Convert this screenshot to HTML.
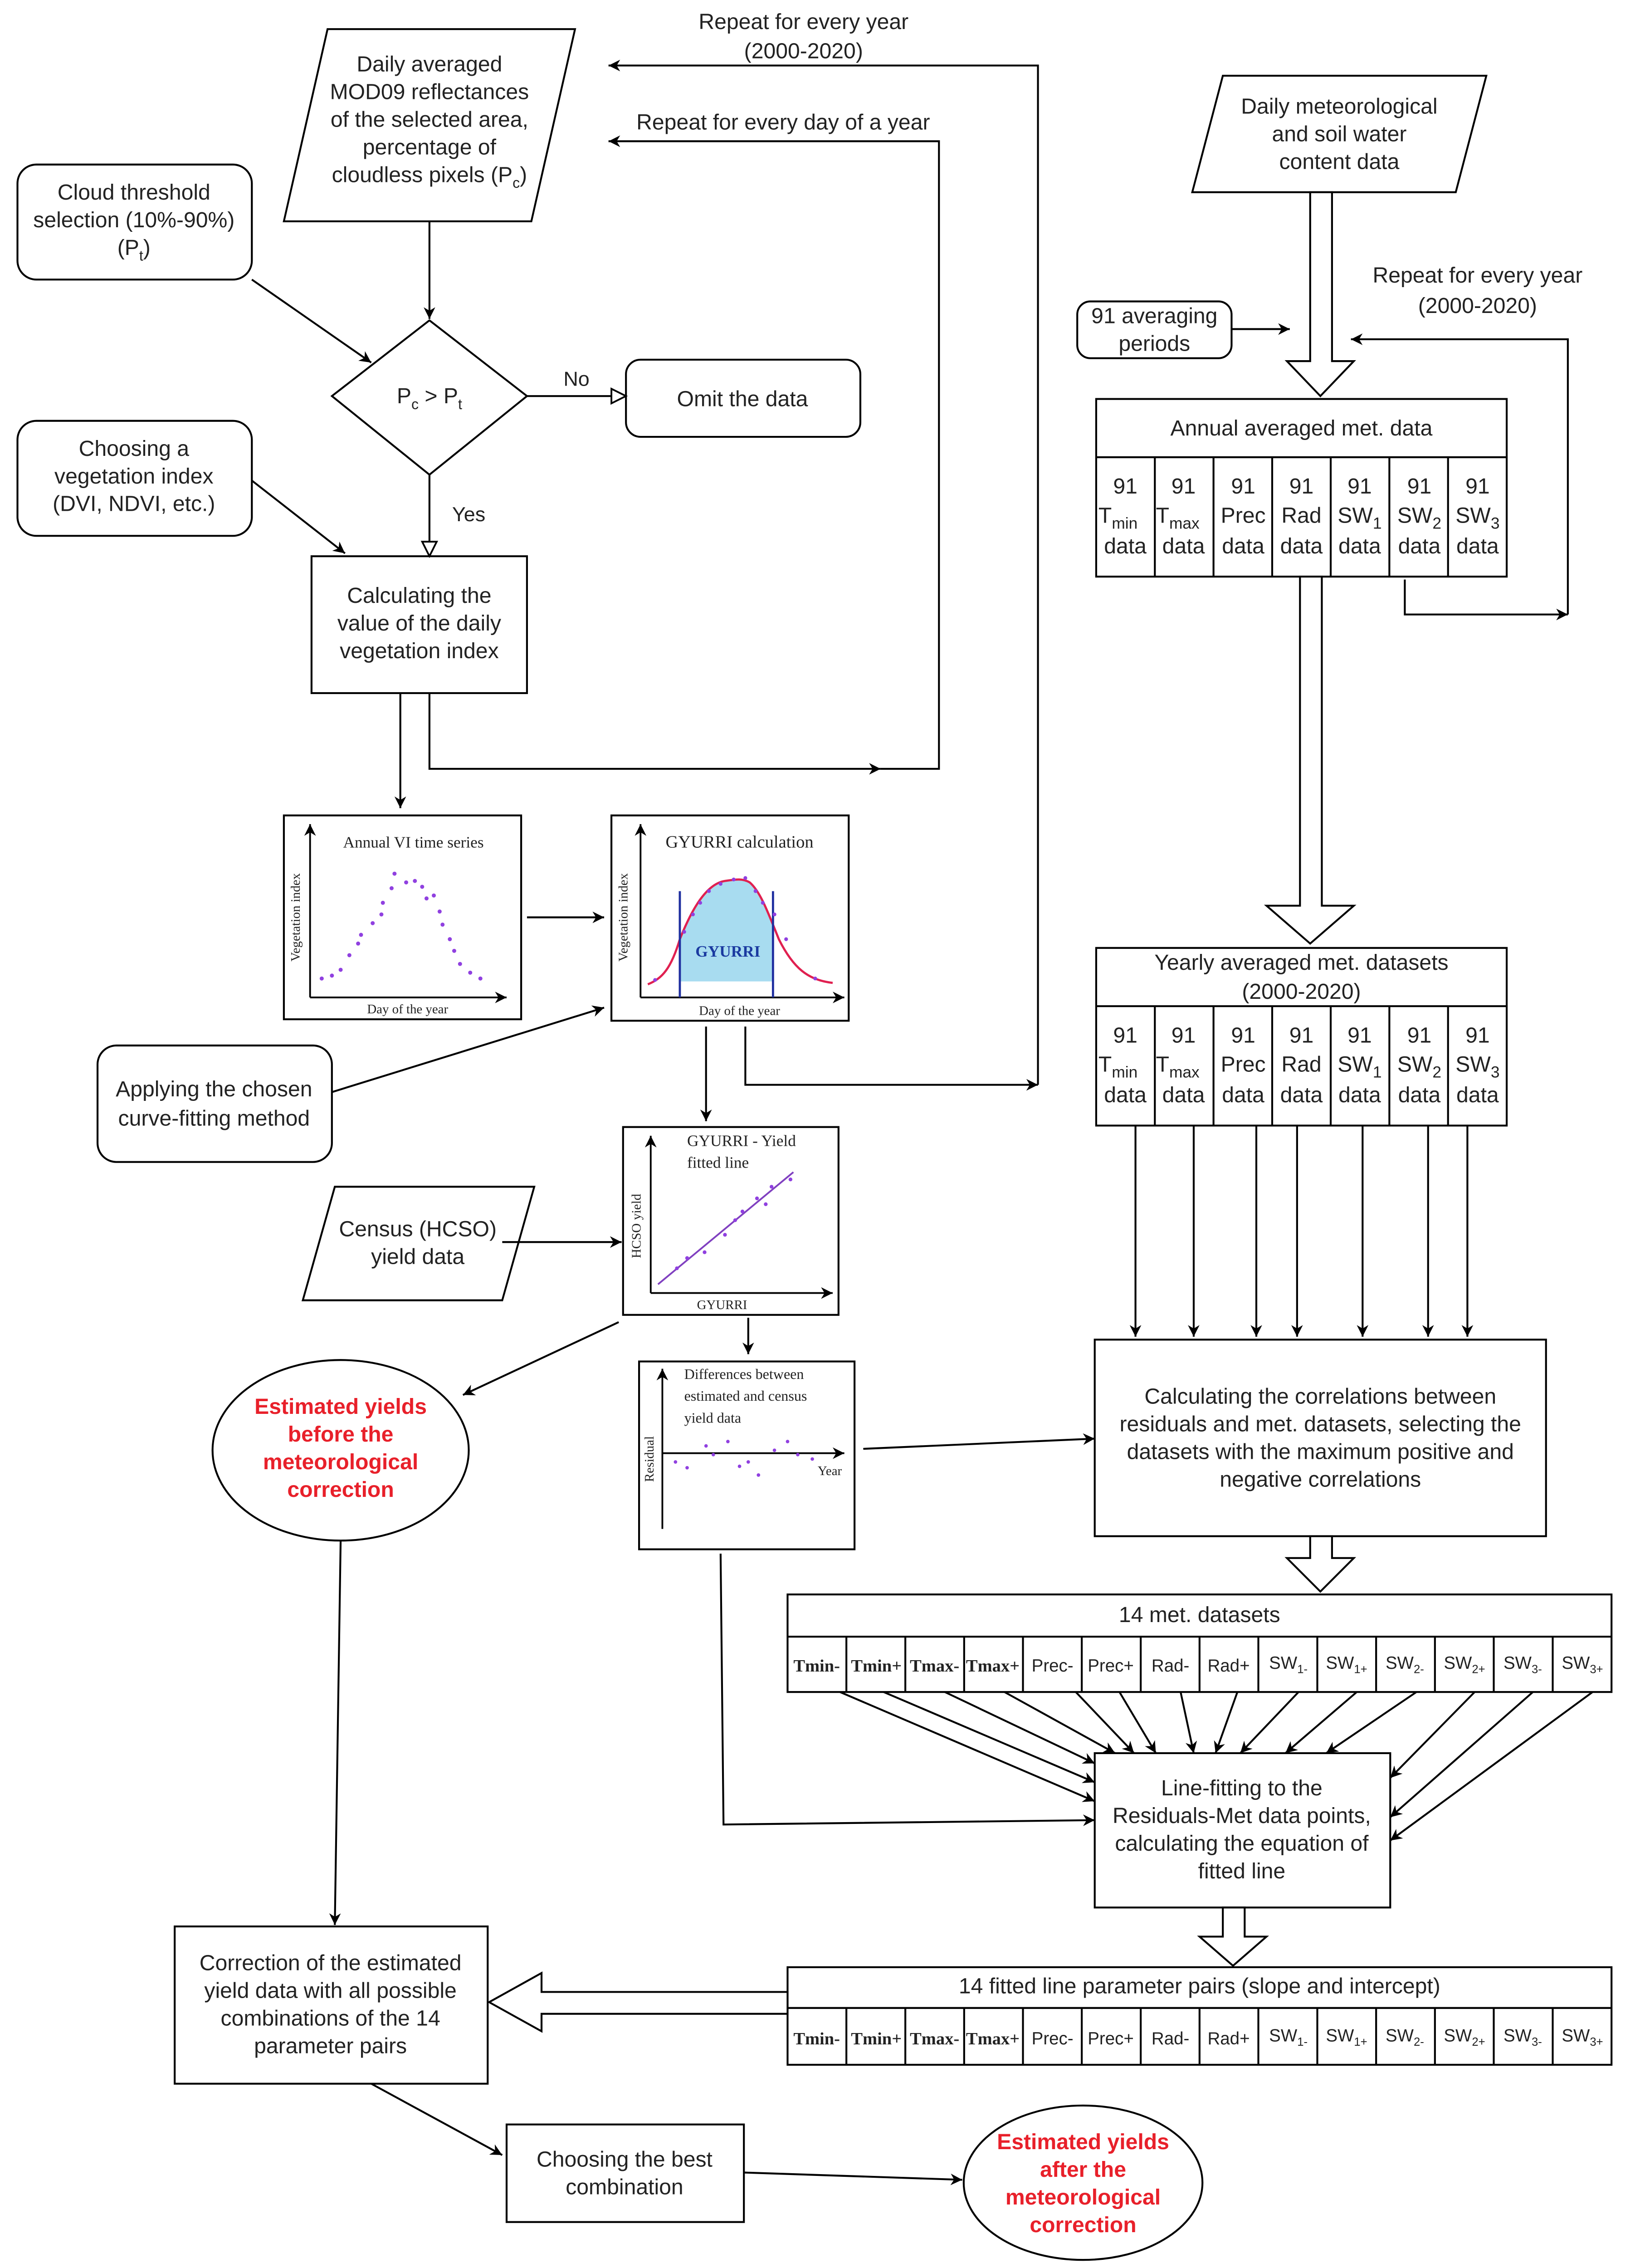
<!DOCTYPE html>
<html><head><meta charset="utf-8"><style>
html,body{margin:0;padding:0;background:#fff;width:3627px;height:5072px;overflow:hidden;}
svg{display:block;}
text{font-family:"Liberation Sans",sans-serif;fill:#222;}
.s{font-family:"Liberation Serif",serif;}
</style></head><body>
<svg width="3627" height="5072" viewBox="0 0 1130 1580" preserveAspectRatio="none" xmlns="http://www.w3.org/2000/svg">
<defs>
<marker id="a" viewBox="0 0 10 10" refX="10" refY="5" markerWidth="8" markerHeight="8" orient="auto" markerUnits="userSpaceOnUse"><path d="M0,0 L10,5 L0,10 L3,5 z" fill="#000"/></marker>
<marker id="o" viewBox="0 0 12 12" refX="11" refY="6" markerWidth="12" markerHeight="12" orient="auto" markerUnits="userSpaceOnUse"><path d="M1,1 L11,6 L1,11 z" fill="#fff" stroke="#000" stroke-width="1.2"/></marker>
</defs>
<g fill="none" stroke="#000" stroke-width="1.3">
<polygon points="225,20 395,20 365,152 195,152" fill="#fff"/>
<rect x="12" y="113" width="161" height="79" rx="13" fill="#fff"/>
<polygon points="295,220 362,272 295,326 228,272" fill="#fff"/>
<rect x="430" y="247" width="161" height="53" rx="10" fill="#fff"/>
<rect x="12" y="289" width="161" height="79" rx="13" fill="#fff"/>
<rect x="214" y="382" width="148" height="94" fill="#fff"/>
<line x1="295" y1="152" x2="295" y2="219" marker-end="url(#a)"/>
<line x1="173" y1="192" x2="255" y2="249" marker-end="url(#a)"/>
<line x1="362" y1="272" x2="430" y2="272" marker-end="url(#o)"/>
<line x1="295" y1="326" x2="295" y2="382" marker-end="url(#o)"/>
<line x1="173" y1="330" x2="237" y2="380" marker-end="url(#a)"/>
<polyline points="295,476 295,528 605,528" marker-end="url(#a)"/>
<polyline points="605,528 645,528 645,97 418,97" marker-end="url(#a)"/>
<polyline points="512,705 512,745 713,745" marker-end="url(#a)"/>
<polyline points="713,745 713,45 418,45" marker-end="url(#a)"/>
<line x1="275" y1="476" x2="275" y2="555" marker-end="url(#a)"/>
<rect x="195" y="560" width="163" height="140" fill="#fff"/>
<rect x="420" y="560" width="163" height="141" fill="#fff"/>
<line x1="362" y1="630" x2="415" y2="630" marker-end="url(#a)"/>
<rect x="67" y="718" width="161" height="80" rx="13" fill="#fff"/>
<line x1="228" y1="750" x2="415" y2="692" marker-end="url(#a)"/>
<line x1="485" y1="705" x2="485" y2="770" marker-end="url(#a)"/>
<rect x="428" y="774" width="148" height="129" fill="#fff"/>
<polygon points="230,815 367,815 345,893 208,893" fill="#fff"/>
<line x1="345" y1="853" x2="427" y2="853" marker-end="url(#a)"/>
<line x1="425" y1="908" x2="318" y2="958" marker-end="url(#a)"/>
<ellipse cx="234" cy="996" rx="88" ry="62" fill="#fff"/>
<line x1="514" y1="905" x2="514" y2="930" marker-end="url(#a)"/>
<rect x="439" y="935" width="148" height="129" fill="#fff"/>
<line x1="593" y1="995" x2="752" y2="988" marker-end="url(#a)"/>
<polyline points="495,1067 497,1253 752,1250" marker-end="url(#a)"/>
<line x1="234" y1="1058" x2="230" y2="1322" marker-end="url(#a)"/>
<polygon points="840,52 1021,52 1000,132 819,132" fill="#fff"/>
<polygon points="900,132 915,132 915,248 930,248 907,272 884,248 900,248" fill="#fff"/>
<rect x="740" y="207" width="106" height="39" rx="9" fill="#fff"/>
<line x1="846" y1="226" x2="886" y2="226" marker-end="url(#a)"/>
<polyline points="965,398 965,422 1077,422" marker-end="url(#a)"/>
<polyline points="1077,422 1077,233 928,233" marker-end="url(#a)"/>
<rect x="753" y="274" width="282" height="122" fill="#fff"/>
<line x1="753" y1="314" x2="1035" y2="314"/>
<line x1="793.3" y1="314" x2="793.3" y2="396"/><line x1="833.6" y1="314" x2="833.6" y2="396"/><line x1="873.9" y1="314" x2="873.9" y2="396"/><line x1="914.1" y1="314" x2="914.1" y2="396"/><line x1="954.4" y1="314" x2="954.4" y2="396"/><line x1="994.7" y1="314" x2="994.7" y2="396"/>
<polygon points="893,396 908,396 908,622 930,622 900,648 870,622 893,622" fill="#fff"/>
<rect x="753" y="651" width="282" height="122" fill="#fff"/>
<line x1="753" y1="691" x2="1035" y2="691"/>
<line x1="793.3" y1="691" x2="793.3" y2="773"/><line x1="833.6" y1="691" x2="833.6" y2="773"/><line x1="873.9" y1="691" x2="873.9" y2="773"/><line x1="914.1" y1="691" x2="914.1" y2="773"/><line x1="954.4" y1="691" x2="954.4" y2="773"/><line x1="994.7" y1="691" x2="994.7" y2="773"/>
<line x1="780" y1="773" x2="780" y2="918" marker-end="url(#a)"/>
<line x1="820" y1="773" x2="820" y2="918" marker-end="url(#a)"/>
<line x1="863" y1="773" x2="863" y2="918" marker-end="url(#a)"/>
<line x1="891" y1="773" x2="891" y2="918" marker-end="url(#a)"/>
<line x1="936" y1="773" x2="936" y2="918" marker-end="url(#a)"/>
<line x1="981" y1="773" x2="981" y2="918" marker-end="url(#a)"/>
<line x1="1008" y1="773" x2="1008" y2="918" marker-end="url(#a)"/>
<rect x="752" y="920" width="310" height="135" fill="#fff"/>
<polygon points="900,1055 915,1055 915,1070 930,1070 907,1093 884,1070 900,1070" fill="#fff"/>
<rect x="541" y="1095" width="566" height="67" fill="#fff"/>
<line x1="541" y1="1124" x2="1107" y2="1124"/>
<g>
<line x1="581.4" y1="1124" x2="581.4" y2="1162"/><line x1="621.9" y1="1124" x2="621.9" y2="1162"/><line x1="662.3" y1="1124" x2="662.3" y2="1162"/><line x1="702.7" y1="1124" x2="702.7" y2="1162"/><line x1="743.1" y1="1124" x2="743.1" y2="1162"/><line x1="783.6" y1="1124" x2="783.6" y2="1162"/><line x1="824" y1="1124" x2="824" y2="1162"/><line x1="864.4" y1="1124" x2="864.4" y2="1162"/><line x1="904.9" y1="1124" x2="904.9" y2="1162"/><line x1="945.3" y1="1124" x2="945.3" y2="1162"/><line x1="985.7" y1="1124" x2="985.7" y2="1162"/><line x1="1026.1" y1="1124" x2="1026.1" y2="1162"/><line x1="1066.6" y1="1124" x2="1066.6" y2="1162"/>
</g>
<rect x="752" y="1204" width="203" height="106" fill="#fff"/>
<line x1="577" y1="1162" x2="752" y2="1237" marker-end="url(#a)"/>
<line x1="607" y1="1162" x2="752" y2="1224" marker-end="url(#a)"/>
<line x1="649" y1="1162" x2="752" y2="1211" marker-end="url(#a)"/>
<line x1="690" y1="1162" x2="766" y2="1204" marker-end="url(#a)"/>
<line x1="739" y1="1162" x2="779" y2="1204" marker-end="url(#a)"/>
<line x1="769" y1="1162" x2="794" y2="1204" marker-end="url(#a)"/>
<line x1="811" y1="1162" x2="820" y2="1204" marker-end="url(#a)"/>
<line x1="850" y1="1162" x2="835" y2="1204" marker-end="url(#a)"/>
<line x1="892" y1="1162" x2="852" y2="1204" marker-end="url(#a)"/>
<line x1="932" y1="1162" x2="883" y2="1204" marker-end="url(#a)"/>
<line x1="973" y1="1162" x2="911" y2="1204" marker-end="url(#a)"/>
<line x1="1013" y1="1162" x2="955" y2="1221" marker-end="url(#a)"/>
<line x1="1053" y1="1162" x2="955" y2="1248" marker-end="url(#a)"/>
<line x1="1094" y1="1162" x2="955" y2="1264" marker-end="url(#a)"/>
<polygon points="840,1310 855,1310 855,1330 870,1330 847,1350 824,1330 840,1330" fill="#fff"/>
<rect x="541" y="1351" width="566" height="67" fill="#fff"/>
<line x1="541" y1="1379" x2="1107" y2="1379"/>
<g>
<line x1="581.4" y1="1379" x2="581.4" y2="1418"/><line x1="621.9" y1="1379" x2="621.9" y2="1418"/><line x1="662.3" y1="1379" x2="662.3" y2="1418"/><line x1="702.7" y1="1379" x2="702.7" y2="1418"/><line x1="743.1" y1="1379" x2="743.1" y2="1418"/><line x1="783.6" y1="1379" x2="783.6" y2="1418"/><line x1="824" y1="1379" x2="824" y2="1418"/><line x1="864.4" y1="1379" x2="864.4" y2="1418"/><line x1="904.9" y1="1379" x2="904.9" y2="1418"/><line x1="945.3" y1="1379" x2="945.3" y2="1418"/><line x1="985.7" y1="1379" x2="985.7" y2="1418"/><line x1="1026.1" y1="1379" x2="1026.1" y2="1418"/><line x1="1066.6" y1="1379" x2="1066.6" y2="1418"/>
</g>
<polygon points="541,1368 372,1368 372,1355 336,1375 372,1395 372,1383 541,1383" fill="#fff"/>
<rect x="120" y="1323" width="215" height="108" fill="#fff"/>
<line x1="255" y1="1431" x2="345" y2="1480" marker-end="url(#a)"/>
<rect x="348" y="1459" width="163" height="67" fill="#fff"/>
<line x1="511" y1="1492" x2="661" y2="1497" marker-end="url(#a)"/>
<ellipse cx="744" cy="1499" rx="82" ry="53" fill="#fff"/>
</g>

<g stroke="#000" stroke-width="1.2" fill="none">
<line x1="213" y1="685" x2="348" y2="685" marker-end="url(#a)"/>
<line x1="213" y1="685" x2="213" y2="566" marker-end="url(#a)"/>
<line x1="440" y1="685" x2="580" y2="685" marker-end="url(#a)"/>
<line x1="440" y1="685" x2="440" y2="566" marker-end="url(#a)"/>
<line x1="447" y1="888" x2="572" y2="888" marker-end="url(#a)"/>
<line x1="447" y1="888" x2="447" y2="780" marker-end="url(#a)"/>
<line x1="455" y1="1050" x2="455" y2="940" marker-end="url(#a)"/>
<line x1="455" y1="998" x2="580" y2="998" marker-end="url(#a)"/>
</g>
<path d="M467,645 C475,625 485,607 498,605 C505,604 510,603 515,606 C522,612 527,625 531,637 L531,674 L467,674 Z" fill="#a8dcf0"/>
<path d="M445,676 C455,672 461,665 467,645 C475,625 485,607 498,605 C505,604 510,603 515,606 C522,612 527,625 535,645 C545,665 555,673 572,675" fill="none" stroke="#e02050" stroke-width="1.5"/>
<line x1="467" y1="612" x2="467" y2="685" stroke="#2030a0" stroke-width="1.5"/>
<line x1="531" y1="612" x2="531" y2="685" stroke="#2030a0" stroke-width="1.5"/>
<line x1="452" y1="882" x2="545" y2="805" stroke="#8040c0" stroke-width="1.2"/>
<g fill="#9040e0">
<circle cx="221" cy="672" r="1.4"/><circle cx="228" cy="670" r="1.4"/><circle cx="234" cy="666" r="1.4"/><circle cx="240" cy="656" r="1.4"/><circle cx="246" cy="648" r="1.4"/><circle cx="248" cy="642" r="1.4"/><circle cx="256" cy="634" r="1.4"/><circle cx="262" cy="628" r="1.4"/><circle cx="263" cy="620" r="1.4"/><circle cx="269" cy="610" r="1.4"/><circle cx="271" cy="600" r="1.4"/><circle cx="279" cy="606" r="1.4"/><circle cx="285" cy="605" r="1.4"/><circle cx="290" cy="609" r="1.4"/><circle cx="293" cy="617" r="1.4"/><circle cx="298" cy="615" r="1.4"/><circle cx="302" cy="626" r="1.4"/><circle cx="304" cy="635" r="1.4"/><circle cx="309" cy="645" r="1.4"/><circle cx="312" cy="653" r="1.4"/><circle cx="316" cy="662" r="1.4"/><circle cx="323" cy="668" r="1.4"/><circle cx="330" cy="672" r="1.4"/>
<circle cx="470" cy="640" r="1.3"/><circle cx="476" cy="628" r="1.3"/><circle cx="481" cy="620" r="1.3"/><circle cx="487" cy="612" r="1.3"/><circle cx="495" cy="607" r="1.3"/><circle cx="504" cy="604" r="1.3"/><circle cx="512" cy="603" r="1.3"/><circle cx="519" cy="612" r="1.3"/><circle cx="524" cy="620" r="1.3"/><circle cx="532" cy="628" r="1.3"/><circle cx="540" cy="645" r="1.3"/><circle cx="560" cy="672" r="1.3"/><circle cx="450" cy="673" r="1.3"/>
<circle cx="465" cy="871" r="1.3"/><circle cx="472" cy="864" r="1.3"/><circle cx="484" cy="860" r="1.3"/><circle cx="498" cy="848" r="1.3"/><circle cx="505" cy="838" r="1.3"/><circle cx="510" cy="832" r="1.3"/><circle cx="520" cy="823" r="1.3"/><circle cx="526" cy="827" r="1.3"/><circle cx="530" cy="815" r="1.3"/><circle cx="543" cy="810" r="1.3"/>
<circle cx="464" cy="1004" r="1.2"/><circle cx="472" cy="1008" r="1.2"/><circle cx="485" cy="993" r="1.2"/><circle cx="490" cy="999" r="1.2"/><circle cx="500" cy="990" r="1.2"/><circle cx="508" cy="1007" r="1.2"/><circle cx="514" cy="1004" r="1.2"/><circle cx="521" cy="1013" r="1.2"/><circle cx="532" cy="996" r="1.2"/><circle cx="541" cy="990" r="1.2"/><circle cx="548" cy="999" r="1.2"/><circle cx="558" cy="1002" r="1.2"/>
</g>
<g>
<text class="s" x="284" y="582" font-size="11" text-anchor="middle">Annual VI time series</text>
<text class="s" x="280" y="696" font-size="9" text-anchor="middle">Day of the year</text>
<text class="s" x="206" y="630" font-size="9" text-anchor="middle" transform="rotate(-90 206 630)">Vegetation index</text>
<text class="s" x="508" y="582" font-size="12" text-anchor="middle">GYURRI calculation</text>
<text class="s" x="500" y="657" font-size="11" font-weight="bold" text-anchor="middle" style="fill:#1a3aa0">GYURRI</text>
<text class="s" x="508" y="697" font-size="9" text-anchor="middle">Day of the year</text>
<text class="s" x="431" y="630" font-size="9" text-anchor="middle" transform="rotate(-90 431 630)">Vegetation index</text>
<text class="s" x="472" y="787" font-size="11">GYURRI - Yield</text>
<text class="s" x="472" y="802" font-size="11">fitted line</text>
<text class="s" x="496" y="899" font-size="9" text-anchor="middle">GYURRI</text>
<text class="s" x="440" y="842" font-size="9" text-anchor="middle" transform="rotate(-90 440 842)">HCSO yield</text>
<text class="s" x="470" y="947" font-size="10">Differences between</text>
<text class="s" x="470" y="962" font-size="10">estimated and census</text>
<text class="s" x="470" y="977" font-size="10">yield data</text>
<text class="s" x="570" y="1013" font-size="9" text-anchor="middle">Year</text>
<text class="s" x="449" y="1002" font-size="9" text-anchor="middle" transform="rotate(-90 449 1002)">Residual</text>
</g>

<g font-size="15" text-anchor="middle">
<text x="295" y="49">Daily averaged</text>
<text x="295" y="68">MOD09 reflectances</text>
<text x="295" y="87">of the selected area,</text>
<text x="295" y="106">percentage of</text>
<text x="295" y="125">cloudless pixels (P<tspan font-size="10" dy="4">c</tspan><tspan dy="-4">)</tspan></text>
<text x="92" y="137">Cloud threshold</text>
<text x="92" y="156">selection (10%-90%)</text>
<text x="92" y="175">(P<tspan font-size="10" dy="4">t</tspan><tspan dy="-4">)</tspan></text>
<text x="295" y="277">P<tspan font-size="10" dy="4">c</tspan><tspan dy="-4"> &gt; P</tspan><tspan font-size="10" dy="4">t</tspan></text>
<text x="396" y="265" font-size="14">No</text>
<text x="510" y="279">Omit the data</text>
<text x="322" y="358" font-size="14">Yes</text>
<text x="92" y="313">Choosing a</text>
<text x="92" y="332">vegetation index</text>
<text x="92" y="351">(DVI, NDVI, etc.)</text>
<text x="288" y="414">Calculating the</text>
<text x="288" y="433">value of the daily</text>
<text x="288" y="452">vegetation index</text>
<text x="552" y="20">Repeat for every year</text>
<text x="552" y="40">(2000-2020)</text>
<text x="538" y="89">Repeat for every day of  a year</text>
<text x="147" y="753">Applying the chosen</text>
<text x="147" y="773">curve-fitting method</text>
<text x="287" y="849">Census (HCSO)</text>
<text x="287" y="868">yield data</text>
<g font-weight="bold"><text x="234" y="971" style="fill:#e8202a">Estimated yields</text><text x="234" y="990" style="fill:#e8202a">before the</text><text x="234" y="1009" style="fill:#e8202a">meteorological</text><text x="234" y="1028" style="fill:#e8202a">correction</text></g>
<text x="920" y="78">Daily meteorological</text>
<text x="920" y="97">and soil water</text>
<text x="920" y="116">content data</text>
<text x="793" y="222">91 averaging</text>
<text x="793" y="241">periods</text>
<text x="1015" y="194">Repeat for every year</text>
<text x="1015" y="215">(2000-2020)</text>
<text x="894" y="299">Annual averaged met. data</text>
<text x="894" y="666">Yearly averaged met. datasets</text>
<text x="894" y="686">(2000-2020)</text>
<text x="907" y="964">Calculating the correlations between</text>
<text x="907" y="983">residuals and met. datasets, selecting the</text>
<text x="907" y="1002">datasets with the maximum positive and</text>
<text x="907" y="1021">negative correlations</text>
<text x="824" y="1114">14 met. datasets</text>
<text x="853" y="1233">Line-fitting to the</text>
<text x="853" y="1252">Residuals-Met data points,</text>
<text x="853" y="1271">calculating the equation of</text>
<text x="853" y="1290">fitted line</text>
<text x="824" y="1369">14 fitted line parameter pairs (slope and intercept)</text>
<text x="227" y="1353">Correction of the estimated</text>
<text x="227" y="1372">yield data with all possible</text>
<text x="227" y="1391">combinations of the 14</text>
<text x="227" y="1410">parameter pairs</text>
<text x="429" y="1488">Choosing  the best</text>
<text x="429" y="1507">combination</text>
<g font-weight="bold"><text x="744" y="1476" style="fill:#e8202a">Estimated yields</text><text x="744" y="1495" style="fill:#e8202a">after the</text><text x="744" y="1514" style="fill:#e8202a">meteorological</text><text x="744" y="1533" style="fill:#e8202a">correction</text></g>
</g>

<g font-size="15" text-anchor="middle">
<g>
<text x="773" y="339">91</text><text x="768" y="359">T<tspan font-size="11" dy="4">min</tspan></text><text x="773" y="380">data</text>
<text x="813" y="339">91</text><text x="809" y="359">T<tspan font-size="11" dy="4">max</tspan></text><text x="813" y="380">data</text>
<text x="854" y="339">91</text><text x="854" y="359">Prec</text><text x="854" y="380">data</text>
<text x="894" y="339">91</text><text x="894" y="359">Rad</text><text x="894" y="380">data</text>
<text x="934" y="339">91</text><text x="934" y="359">SW<tspan font-size="11" dy="4">1</tspan></text><text x="934" y="380">data</text>
<text x="975" y="339">91</text><text x="975" y="359">SW<tspan font-size="11" dy="4">2</tspan></text><text x="975" y="380">data</text>
<text x="1015" y="339">91</text><text x="1015" y="359">SW<tspan font-size="11" dy="4">3</tspan></text><text x="1015" y="380">data</text>
</g>
<g transform="translate(0,377)">
<text x="773" y="339">91</text><text x="768" y="359">T<tspan font-size="11" dy="4">min</tspan></text><text x="773" y="380">data</text>
<text x="813" y="339">91</text><text x="809" y="359">T<tspan font-size="11" dy="4">max</tspan></text><text x="813" y="380">data</text>
<text x="854" y="339">91</text><text x="854" y="359">Prec</text><text x="854" y="380">data</text>
<text x="894" y="339">91</text><text x="894" y="359">Rad</text><text x="894" y="380">data</text>
<text x="934" y="339">91</text><text x="934" y="359">SW<tspan font-size="11" dy="4">1</tspan></text><text x="934" y="380">data</text>
<text x="975" y="339">91</text><text x="975" y="359">SW<tspan font-size="11" dy="4">2</tspan></text><text x="975" y="380">data</text>
<text x="1015" y="339">91</text><text x="1015" y="359">SW<tspan font-size="11" dy="4">3</tspan></text><text x="1015" y="380">data</text>
</g>
</g>

<g font-size="12" text-anchor="middle">
<g>
<text class="s" x="561" y="1148" font-weight="bold">Tmin-</text><text class="s" x="602" y="1148" font-weight="bold">Tmin+</text><text class="s" x="642" y="1148" font-weight="bold">Tmax-</text><text class="s" x="682" y="1148" font-weight="bold">Tmax+</text>
<text x="723" y="1148">Prec-</text><text x="763" y="1148">Prec+</text><text x="804" y="1148">Rad-</text><text x="844" y="1148">Rad+</text>
<text x="885" y="1146">SW<tspan font-size="8" dy="3">1-</tspan></text><text x="925" y="1146">SW<tspan font-size="8" dy="3">1+</tspan></text><text x="965" y="1146">SW<tspan font-size="8" dy="3">2-</tspan></text><text x="1006" y="1146">SW<tspan font-size="8" dy="3">2+</tspan></text><text x="1046" y="1146">SW<tspan font-size="8" dy="3">3-</tspan></text><text x="1087" y="1146">SW<tspan font-size="8" dy="3">3+</tspan></text>
</g>
<g transform="translate(0,256)">
<text class="s" x="561" y="1148" font-weight="bold">Tmin-</text><text class="s" x="602" y="1148" font-weight="bold">Tmin+</text><text class="s" x="642" y="1148" font-weight="bold">Tmax-</text><text class="s" x="682" y="1148" font-weight="bold">Tmax+</text>
<text x="723" y="1148">Prec-</text><text x="763" y="1148">Prec+</text><text x="804" y="1148">Rad-</text><text x="844" y="1148">Rad+</text>
<text x="885" y="1146">SW<tspan font-size="8" dy="3">1-</tspan></text><text x="925" y="1146">SW<tspan font-size="8" dy="3">1+</tspan></text><text x="965" y="1146">SW<tspan font-size="8" dy="3">2-</tspan></text><text x="1006" y="1146">SW<tspan font-size="8" dy="3">2+</tspan></text><text x="1046" y="1146">SW<tspan font-size="8" dy="3">3-</tspan></text><text x="1087" y="1146">SW<tspan font-size="8" dy="3">3+</tspan></text>
</g>
</g>
</svg>
</body></html>
